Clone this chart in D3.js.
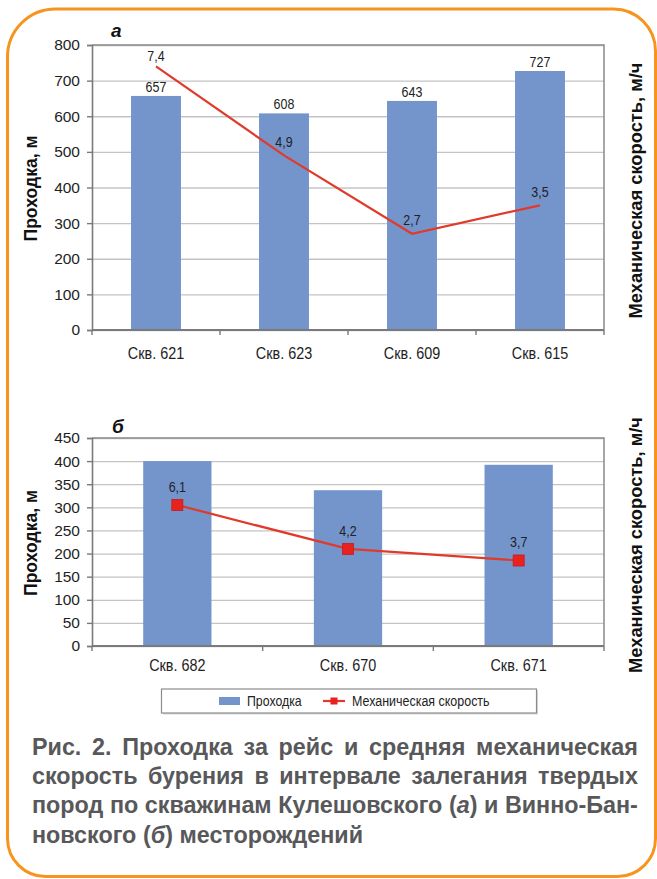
<!DOCTYPE html>
<html>
<head>
<meta charset="utf-8">
<script src="https://cdn.jsdelivr.net/npm/d3@7"></script>
<style>
  html, body { margin: 0; padding: 0; background: #ffffff; }
  svg { display: block; }
</style>
</head>
<body>
<svg id="fig" width="657" height="879"></svg>
<script>
// Panel "а" — Кулешовское месторождение
const categoriesA = ["Скв. 621", "Скв. 623", "Скв. 609", "Скв. 615"];
const depthA = [657, 608, 643, 727];
const speedA = [7.4, 4.9, 2.7, 3.5];
const depthTicksA = [0, 100, 200, 300, 400, 500, 600, 700, 800];

// Panel "б" — Винно-Бановское месторождение
const categoriesB = ["Скв. 682", "Скв. 670", "Скв. 671"];
const depthB = [400, 337, 392];
const speedB = [6.1, 4.2, 3.7];
const depthTicksB = [0, 50, 100, 150, 200, 250, 300, 350, 400, 450];

const legendLabels = ["Проходка", "Механическая скорость"];
const yTitle = "Проходка, м";
const y2Title = "Механическая скорость, м/ч";
const captionLines = [
  "Рис. 2. Проходка за рейс и средняя механическая",
  "скорость бурения в интервале залегания твердых",
  "пород по скважинам Кулешовского (а) и Винно-Бан-",
  "новского (б) месторождений"
];

const SANS = "'Liberation Sans', Arial, Helvetica, sans-serif";
const BAR = "#7494cc";
const LINE = "#e03a2a";
const MARK = "#e8231f";
const fmt = v => d3.format(".1f")(v).replace(".", ",");

const svg = d3.select("#fig");

// horizontally condensed text, drawn from Liberation Sans with an x-scale
function narrow(parent, x, y, str, size, sx, anchor) {
  return parent.append("text")
    .attr("transform", `translate(${x},${y}) scale(${sx},1)`)
    .attr("text-anchor", anchor || "start")
    .attr("font-family", SANS).attr("font-size", size)
    .text(str);
}

// Orange rounded frame around the whole figure
(function frame() {
  const L = 7.5, T = 9, R = 655.5, B = 876.5;
  const tl = 48, tr = 42, br = 38, bl = 38;
  const p = d3.path();
  p.moveTo(L + tl, T);
  p.lineTo(R - tr, T);
  p.arcTo(R, T, R, T + tr, tr);
  p.lineTo(R, B - br);
  p.arcTo(R, B, R - br, B, br);
  p.lineTo(L + bl, B);
  p.arcTo(L, B, L, B - bl, bl);
  p.lineTo(L, T + tl);
  p.arcTo(L, T, L + tl, T, tl);
  p.closePath();
  svg.append("path").attr("d", p.toString())
    .attr("fill", "none").attr("stroke", "#f7941d").attr("stroke-width", 3);
})();

function panel(cfg) {
  const g = svg.append("g");
  const x = d3.scaleBand().domain(cfg.categories)
    .range([cfg.left, cfg.right]).paddingInner(cfg.pad).paddingOuter(cfg.pad / 2);
  const y = d3.scaleLinear().domain([0, cfg.yMax]).range([cfg.bottom, cfg.top]);
  const y2 = d3.scaleLinear().domain([0, cfg.y2Max]).range([cfg.bottom, cfg.top]);
  const cx = c => x(c) + x.bandwidth() / 2;

  // gridlines
  g.append("g").attr("transform", `translate(${cfg.left},0)`)
    .call(d3.axisLeft(y).tickValues(cfg.ticks).tickSize(-(cfg.right - cfg.left)).tickFormat(""))
    .call(s => s.select(".domain").remove())
    .call(s => s.selectAll("line").attr("stroke", "#c4c4c4").attr("stroke-width", 1.3));

  // plot frame (top and right)
  g.append("path")
    .attr("d", `M${cfg.left},${cfg.top}H${cfg.right}V${cfg.bottom}`)
    .attr("fill", "none").attr("stroke", "#8a8a8a").attr("stroke-width", 1.5);

  // bars
  g.selectAll("rect.bar").data(cfg.depth).join("rect")
    .attr("class", "bar")
    .attr("x", (d, i) => x(cfg.categories[i]))
    .attr("width", x.bandwidth())
    .attr("y", d => y(d))
    .attr("height", d => y(0) - y(d))
    .attr("fill", BAR);

  if (cfg.barLabels) {
    cfg.depth.forEach((d, i) => {
      narrow(g, cx(cfg.categories[i]), y(d) - 4, d, 14.5, 0.86, "middle").attr("fill", "#222");
    });
  }

  // left axis
  g.append("g").attr("transform", `translate(${cfg.left},0)`)
    .call(d3.axisLeft(y).tickValues(cfg.ticks).tickSize(5).tickPadding(7))
    .call(s => s.select(".domain").attr("stroke", "#7a7a7a").attr("stroke-width", 1.6))
    .call(s => s.selectAll("line").attr("stroke", "#7a7a7a").attr("stroke-width", 1.4))
    .call(s => s.selectAll("text").attr("font-family", SANS).attr("font-size", 15.5).attr("fill", "#1e1e1e"));

  // bottom axis
  const bounds = cfg.categories.map(c => cx(c) - x.step() / 2).concat([cfg.right]);
  const xa = g.append("g").attr("transform", `translate(0,${cfg.bottom})`);
  xa.append("line").attr("x1", cfg.left).attr("x2", cfg.right)
    .attr("stroke", "#7a7a7a").attr("stroke-width", 1.8);
  xa.selectAll("line.tk").data(bounds).join("line").attr("class", "tk")
    .attr("x1", d => d).attr("x2", d => d).attr("y1", 0).attr("y2", 5)
    .attr("stroke", "#7a7a7a").attr("stroke-width", 1.4);
  cfg.categories.forEach(c => {
    narrow(xa, cx(c), cfg.xLabelDy, c, 16, 0.9, "middle").attr("fill", "#1e1e1e");
  });

  // speed line
  const pts = cfg.speed.map((v, i) => [cx(cfg.categories[i]), y2(v)]);
  g.append("path").attr("d", d3.line()(pts))
    .attr("fill", "none").attr("stroke", LINE).attr("stroke-width", 2.2);
  if (cfg.markers) {
    g.selectAll("rect.mk").data(pts).join("rect").attr("class", "mk")
      .attr("x", d => d[0] - 5.5).attr("y", d => d[1] - 5.5)
      .attr("width", 11).attr("height", 11)
      .attr("fill", MARK).attr("stroke", "#c21d1a").attr("stroke-width", 0.8);
  }
  cfg.speed.forEach((v, i) => {
    narrow(g, pts[i][0], pts[i][1] - cfg.speedLabelDy[i], fmt(v), 14.5, 0.86, "middle").attr("fill", "#222");
  });

  // axis titles
  const midY = (cfg.top + cfg.bottom) / 2;
  g.append("text")
    .attr("transform", `translate(37,${midY + 1}) rotate(-90)`)
    .attr("text-anchor", "middle")
    .attr("font-family", SANS).attr("font-weight", "bold").attr("font-size", 18).attr("fill", "#111")
    .attr("textLength", 106).attr("lengthAdjust", "spacingAndGlyphs")
    .text(yTitle);
  g.append("text")
    .attr("transform", `translate(642,${midY + 3}) rotate(-90)`)
    .attr("text-anchor", "middle")
    .attr("font-family", SANS).attr("font-weight", "bold").attr("font-size", 18).attr("fill", "#111")
    .attr("textLength", 256).attr("lengthAdjust", "spacingAndGlyphs")
    .text(y2Title);

  // panel letter
  g.append("text").attr("x", cfg.letterX).attr("y", cfg.letterY)
    .attr("font-family", SANS).attr("font-weight", "bold").attr("font-style", "italic")
    .attr("font-size", 19).attr("fill", "#111")
    .text(cfg.letter);
}

panel({
  categories: categoriesA, depth: depthA, speed: speedA, ticks: depthTicksA,
  yMax: 800, y2Max: 8, left: 92, right: 604, top: 45, bottom: 330,
  pad: 0.61, barLabels: true, markers: false, speedLabelDy: [5, 8, 9, 8],
  xLabelDy: 28.5, letter: "а", letterX: 111, letterY: 37
});

panel({
  categories: categoriesB, depth: depthB, speed: speedB, ticks: depthTicksB,
  yMax: 450, y2Max: 9, left: 92, right: 604, top: 438, bottom: 646,
  pad: 0.6, barLabels: false, markers: true, speedLabelDy: [13, 13, 13],
  xLabelDy: 25, letter: "б", letterX: 112, letterY: 433
});

// legend
(function legend() {
  const g = svg.append("g");
  g.append("rect").attr("x", 163).attr("y", 690.5).attr("width", 375).attr("height", 24)
    .attr("fill", "#d8d8d8");
  g.append("rect").attr("x", 161.5).attr("y", 689).attr("width", 375).attr("height", 24)
    .attr("fill", "#fff").attr("stroke", "#8c8c8c").attr("stroke-width", 1.2);
  g.append("rect").attr("x", 219).attr("y", 697).attr("width", 21).attr("height", 8).attr("fill", BAR);
  narrow(g, 247, 706, legendLabels[0], 14, 0.88).attr("fill", "#222");
  g.append("line").attr("x1", 323).attr("x2", 345).attr("y1", 701).attr("y2", 701)
    .attr("stroke", LINE).attr("stroke-width", 2.2);
  g.append("rect").attr("x", 330.5).attr("y", 697.5).attr("width", 7).attr("height", 7).attr("fill", MARK);
  narrow(g, 352, 706, legendLabels[1], 14, 0.89).attr("fill", "#222");
})();

// caption, justified between the margins except for the last line
(function caption() {
  const left = 32, right = 638, base0 = 755, lh = 29.2, minGap = 6.5;
  const g = svg.append("g")
    .attr("font-family", SANS).attr("font-weight", "bold").attr("font-size", 24)
    .attr("fill", "#58585a");
  const rows = captionLines.map((line, li) => {
    const row = g.append("g");
    const words = line.split(" ");
    const nodes = words.map(w => {
      const t = row.append("text").attr("y", 0);
      const m = w.match(/^\((.)\)$/);
      if (m) {
        t.append("tspan").text("(");
        t.append("tspan").attr("font-style", "italic").text(m[1]);
        t.append("tspan").text(")");
      } else {
        t.text(w);
      }
      return t;
    });
    const widths = nodes.map(t => t.node().getComputedTextLength());
    return { row, nodes, widths, n: words.length, base: base0 + li * lh };
  });
  // one horizontal condensing factor so the tightest justified row just fits
  const sx = d3.min(rows.slice(0, -1), r => (right - left - (r.n - 1) * minGap) / d3.sum(r.widths));
  const span = (right - left) / sx;
  rows.forEach((r, li) => {
    const last = li === rows.length - 1;
    const gap = last ? minGap / sx : (span - d3.sum(r.widths)) / (r.n - 1);
    let xx = 0;
    r.nodes.forEach((t, i) => { t.attr("x", xx); xx += r.widths[i] + gap; });
    r.row.attr("transform", `translate(${left},${r.base}) scale(${sx},1)`);
  });
})();
</script>
</body>
</html>
